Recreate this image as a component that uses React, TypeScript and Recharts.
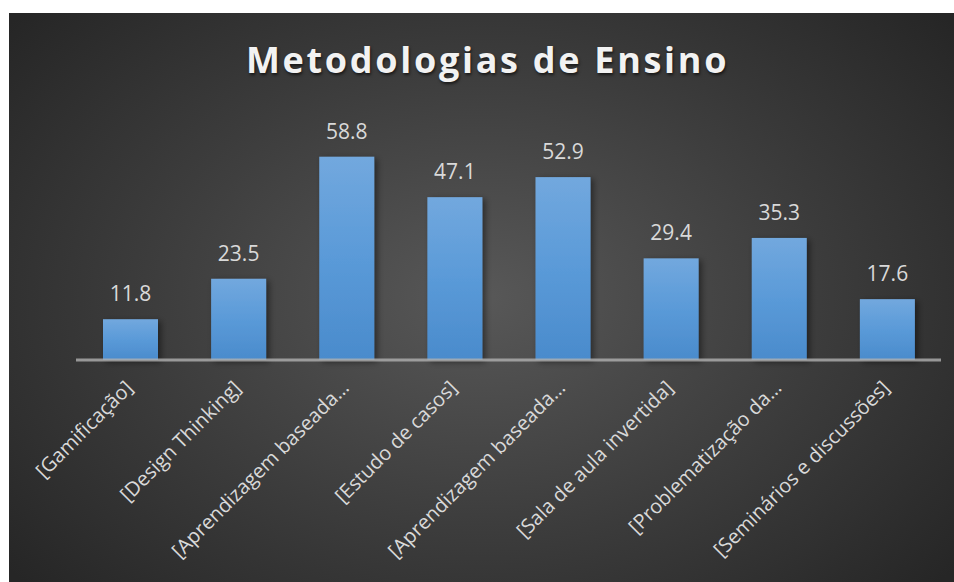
import React from "react"
import { BarChart, Bar, XAxis, YAxis, LabelList } from "recharts"

const categories = [
  "[Gamificação]",
  "[Design Thinking]",
  "[Aprendizagem baseada…",
  "[Estudo de casos]",
  "[Aprendizagem baseada…",
  "[Sala de aula invertida]",
  "[Problematização da…",
  "[Seminários e discussões]",
]
const values = [11.8, 23.5, 58.8, 47.1, 52.9, 29.4, 35.3, 17.6]

const data = categories.map((name, i) => ({ name, value: values[i] }))

const FONT = "'Open Sans', 'DejaVu Sans', sans-serif"

function AxisTick(props: any) {
  const { x, y, payload } = props
  const tx = x + 4
  const ty = y + 21
  return (
    <text
      x={tx}
      y={ty}
      transform={`rotate(-45, ${tx}, ${ty})`}
      textAnchor="end"
      fill="#d9d9d9"
      fontSize={20}
      fontFamily={FONT}
    >
      {payload.value}
    </text>
  )
}

function BarShape(props: any) {
  const { x, y, width, height } = props
  if (!height) return null
  return <rect x={x} y={y} width={width} height={height} fill="url(#barFill)" filter="url(#barShadow)" />
}

export default function App() {
  return (
    <div
      style={{
        position: "absolute",
        left: 9,
        top: 13,
        width: 945,
        height: 569,
        background: "radial-gradient(ellipse 65% 75% at 50% 50%, #585858 0%, #3c3c3c 55%, #262626 100%)",
      }}
    >
      <div
        style={{
          position: "absolute",
          left: 0,
          top: 22,
          width: 945,
          textAlign: "center",
          fontFamily: FONT,
          fontWeight: 700,
          fontSize: 36,
          letterSpacing: 2.7,
          color: "#f2f2f2",
          textShadow: "1px 2px 3px rgba(0,0,0,0.6)",
          paddingLeft: 12,
          boxSizing: "border-box",
        }}
      >
        Metodologias de Ensino
      </div>
      <BarChart
        width={945}
        height={569}
        data={data}
        margin={{ top: 105, right: 13, left: 67, bottom: 22 }}
        barSize={55}
        style={{ position: "absolute", left: 0, top: 0 }}
      >
        <defs>
          <linearGradient id="barFill" x1="0" y1="0" x2="0" y2="1">
            <stop offset="0%" stopColor="#72a8de" />
            <stop offset="50%" stopColor="#5a9ad8" />
            <stop offset="100%" stopColor="#4a8bcc" />
          </linearGradient>
          <filter id="barShadow" x="-20%" y="-20%" width="150%" height="140%">
            <feDropShadow dx="3" dy="2" stdDeviation="3" floodColor="#000" floodOpacity="0.45" />
          </filter>
        </defs>
        <YAxis hide domain={[0, 70]} />
        <XAxis
          dataKey="name"
          interval={0}
          height={200}
          tickLine={false}
          axisLine={{ stroke: "#b0b0b0", strokeWidth: 3, strokeOpacity: 0.8 }}
          tick={<AxisTick />}
        />
        <Bar dataKey="value" shape={<BarShape />} isAnimationActive={false}>
          <LabelList
            dataKey="value"
            position="top"
            offset={18}
            fill="#d9d9d9"
            fontSize={21}
            fontFamily={FONT}
          />
        </Bar>
      </BarChart>
    </div>
  )
}
